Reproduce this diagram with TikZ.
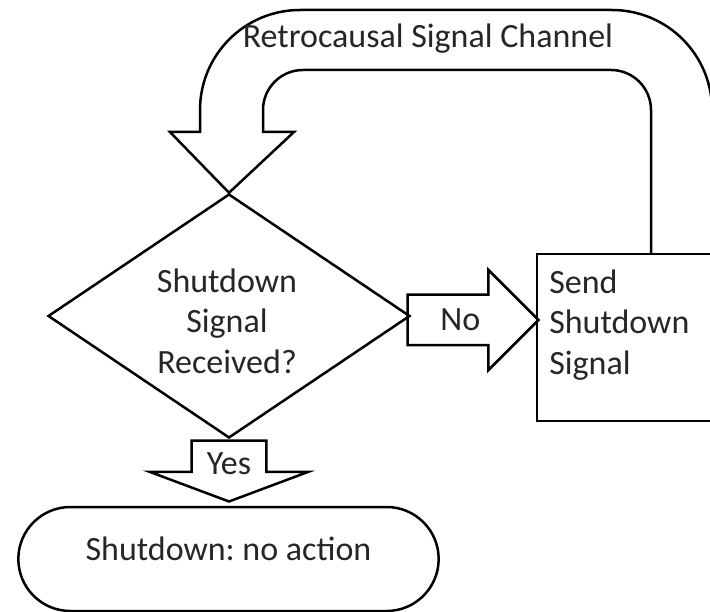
\documentclass[tikz,border=0pt]{standalone}
\usepackage{fontspec}
\setmainfont{Carlito}
\usetikzlibrary{shapes.geometric,shapes.arrows,shapes.misc}

\begin{document}
\frenchspacing
\begin{tikzpicture}[x=1pt,y=-1pt,line width=2.5pt,
  every node/.style={font=\fontsize{34pt}{40.5pt}\selectfont,text=black!85},
  decision/.style={draw,diamond,minimum width=362pt,minimum height=244pt,inner sep=0pt},
  process/.style={draw,rectangle,inner sep=0pt},
  terminal/.style={draw,rounded rectangle,minimum width=427pt,minimum height=104pt},
  blockarrow/.style={draw,single arrow,anchor=tail,single arrow head indent=0pt}]
		\useasboundingbox (0,0) rectangle (710,612);
		\clip (0,0) rectangle (710,612);
		\node[decision] (dec) at (229,316) {};
		\node[align=center,inner sep=0pt] (dectxt) at (227,321) {Shutdown\\Signal\\Received?};
		\node[process,minimum width=224pt,minimum height=167pt] (send) at (649,337.5) {};
		\node[align=left,inner sep=0pt,anchor=west] (sendtxt) at (548,325) {Send\\Shutdown\\Signal};
		\node[terminal,text height=24pt,text depth=22pt] (stop) at (228.5,559) {Shutdown: no action};
		\node[blockarrow,minimum height=131pt,inner ysep=13pt,text height=22pt,text depth=0pt,single arrow head extend=25pt] (no) at ([xshift=-5pt,yshift=-4pt]dec.east) {No};
		\node[blockarrow,shape border rotate=270,minimum height=61pt,inner xsep=14pt,single arrow head extend=42pt,single arrow tip angle=139] (yes) at (dec.south) {Yes};
		\draw (712,254) -- (712,110) arc[start angle=0,end angle=-90,radius=100] -- (300,10) arc[start angle=-90,end angle=-180,radius=100] -- (200,132) -- (170,132) -- (dec.north) -- (294,132) -- (263,132) -- (263,110) arc[start angle=-180,end angle=-90,radius=40] -- (611,70) arc[start angle=-90,end angle=0,radius=40] -- (651,254);
		\node[anchor=base] (chan) at (428,48) {Retrocausal Signal Channel};
\end{tikzpicture}
\end{document}
